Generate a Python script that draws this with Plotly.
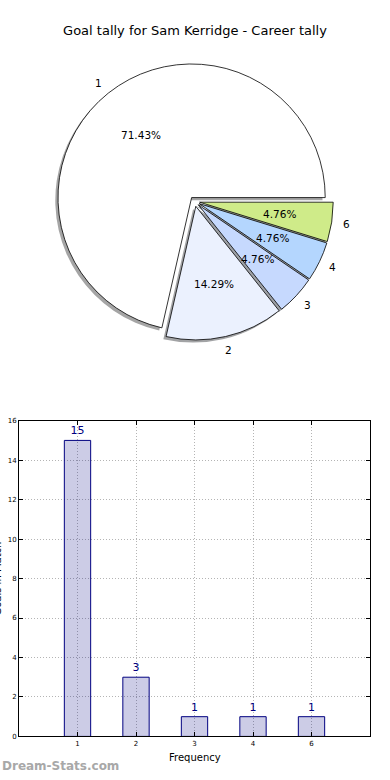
import math
import plotly.graph_objects as go

# ---------------- data ----------------
categories = ["1", "2", "3", "4", "6"]
counts = [15, 3, 1, 1, 1]
pie_colors = ["#ffffff", "#ebf1fe", "#c6d9fe", "#b4d6fe", "#cfeb89"]
title_text = "Goal tally for Sam Kerridge - Career tally"
x_title = "Frequency"
y_title = "Goals in Match"
watermark = "Dream-Stats.com"

W, H = 390, 780
FONT = "DejaVu Sans"

# ---------------- pie geometry (pixels) ----------------
cx, cy = 194.7, 199.5     # pie centre
R = 135.0                 # radius
PULL = 0.037
box = 2 * R * (1 + PULL)
dom_x = [(cx - box / 2) / W, (cx + box / 2) / W]
dom_y = [1 - (cy + box / 2) / H, 1 - (cy - box / 2) / H]
sh = 2.7  # shadow offset px

total = sum(counts)
# plotly's counterclockwise pies end the first slice at `rotation`;
# start the first slice at 3 o'clock going counterclockwise (like matplotlib)
rot = 90 - 360 * counts[0] / total


def shade(hexcol):
    h = hexcol.lstrip("#")
    r, g, b = (int(h[i:i + 2], 16) for i in (0, 2, 4))
    return f"rgba({int(r*0.3)},{int(g*0.3)},{int(b*0.3)},0.5)"


fig = go.Figure()

# shadow
fig.add_trace(go.Pie(
    labels=categories, values=counts, sort=False, direction="counterclockwise",
    rotation=rot, pull=[PULL] * len(counts), textinfo="none", hoverinfo="skip",
    marker=dict(colors=[shade(c) for c in pie_colors], line=dict(width=0)),
    domain=dict(x=[dom_x[0] - sh / W, dom_x[1] - sh / W],
                y=[dom_y[0] - sh / H, dom_y[1] - sh / H]),
    showlegend=False,
))
# main pie
fig.add_trace(go.Pie(
    labels=categories, values=counts, sort=False, direction="counterclockwise",
    rotation=rot, pull=[PULL] * len(counts), textinfo="none",
    marker=dict(colors=pie_colors, line=dict(color="#000000", width=0.8)),
    domain=dict(x=dom_x, y=dom_y),
    showlegend=False,
))

# pie labels (percent inside at 0.6R, category label at 1.1R)
cum = 0.0
annotations = []
for lab, v in zip(categories, counts):
    frac = v / total
    mid = 2 * math.pi * (cum + frac / 2)
    cum += frac
    for dist, txt in ((0.6, f"{100*frac:.2f}%"), (1.1, lab)):
        rho = (PULL + dist) * R
        px = cx + rho * math.cos(mid)
        py = cy - rho * math.sin(mid)
        annotations.append(dict(
            x=px / W, y=1 - py / H, xref="paper", yref="paper", text=txt,
            showarrow=False, xanchor="center", yanchor="middle",
            font=dict(family=FONT, size=10.5, color="#000000")))

# ---------------- bar chart ----------------
fig.add_trace(go.Bar(
    x=categories, y=counts, width=0.45,
    marker=dict(color="rgba(0,0,128,0.2)", line=dict(color="#000080", width=1)),
    text=counts, texttemplate="%{y}", textposition="outside",
    textfont=dict(family=FONT, size=11, color="#000080"),
    cliponaxis=False, xaxis="x", yaxis="y", showlegend=False,
))

ax_x0, ax_x1, ax_top, ax_bot = 19, 370, 421, 740
axis_common = dict(
    showline=True, linecolor="#000000", linewidth=1, mirror="allticks",
    ticks="inside", ticklen=4, tickcolor="#000000",
    showgrid=True, gridcolor="#b4b4b4", griddash="1px,2px", gridwidth=1,
    zeroline=False, tickfont=dict(family=FONT, size=7, color="#000000"),
)
fig.update_layout(
    xaxis=dict(domain=[ax_x0 / W, ax_x1 / W], type="category",
               categoryorder="array", categoryarray=categories,
               range=[-1, 5], anchor="y", **axis_common),
    yaxis=dict(domain=[1 - ax_bot / H, 1 - ax_top / H], range=[0, 16],
               dtick=2, anchor="x", **axis_common),
)

annotations += [
    dict(x=(ax_x0 + ax_x1) / 2 / W, y=1 - 761 / H, xref="paper", yref="paper",
         text=x_title, showarrow=False, xanchor="center", yanchor="middle",
         font=dict(family=FONT, size=10, color="#000000")),
    dict(x=-2 / W, y=1 - (ax_top + ax_bot) / 2 / H, xref="paper", yref="paper",
         text=y_title, textangle=-90, showarrow=False, xanchor="center",
         yanchor="middle", font=dict(family=FONT, size=10, color="#000000")),
    dict(x=0, y=1 - 770 / H, xref="paper", yref="paper", text=f"<b>{watermark}</b>",
         showarrow=False, xanchor="left", yanchor="middle",
         font=dict(family=FONT, size=12, color="#a8a8a8")),
]

fig.update_layout(
    width=W, height=H, margin=dict(l=0, r=0, t=0, b=0),
    paper_bgcolor="#ffffff", plot_bgcolor="#ffffff",
    title=dict(text=title_text, x=0.5, xanchor="center", y=1 - 30 / H,
               yanchor="middle", yref="container",
               font=dict(family=FONT, size=13, color="#000000")),
    annotations=annotations, bargap=0.5,
)

fig.write_html(
    "out.html",
    config={"displayModeBar": False},
    post_script="document.body.style.margin='0';document.body.style.overflow='hidden';",
)
